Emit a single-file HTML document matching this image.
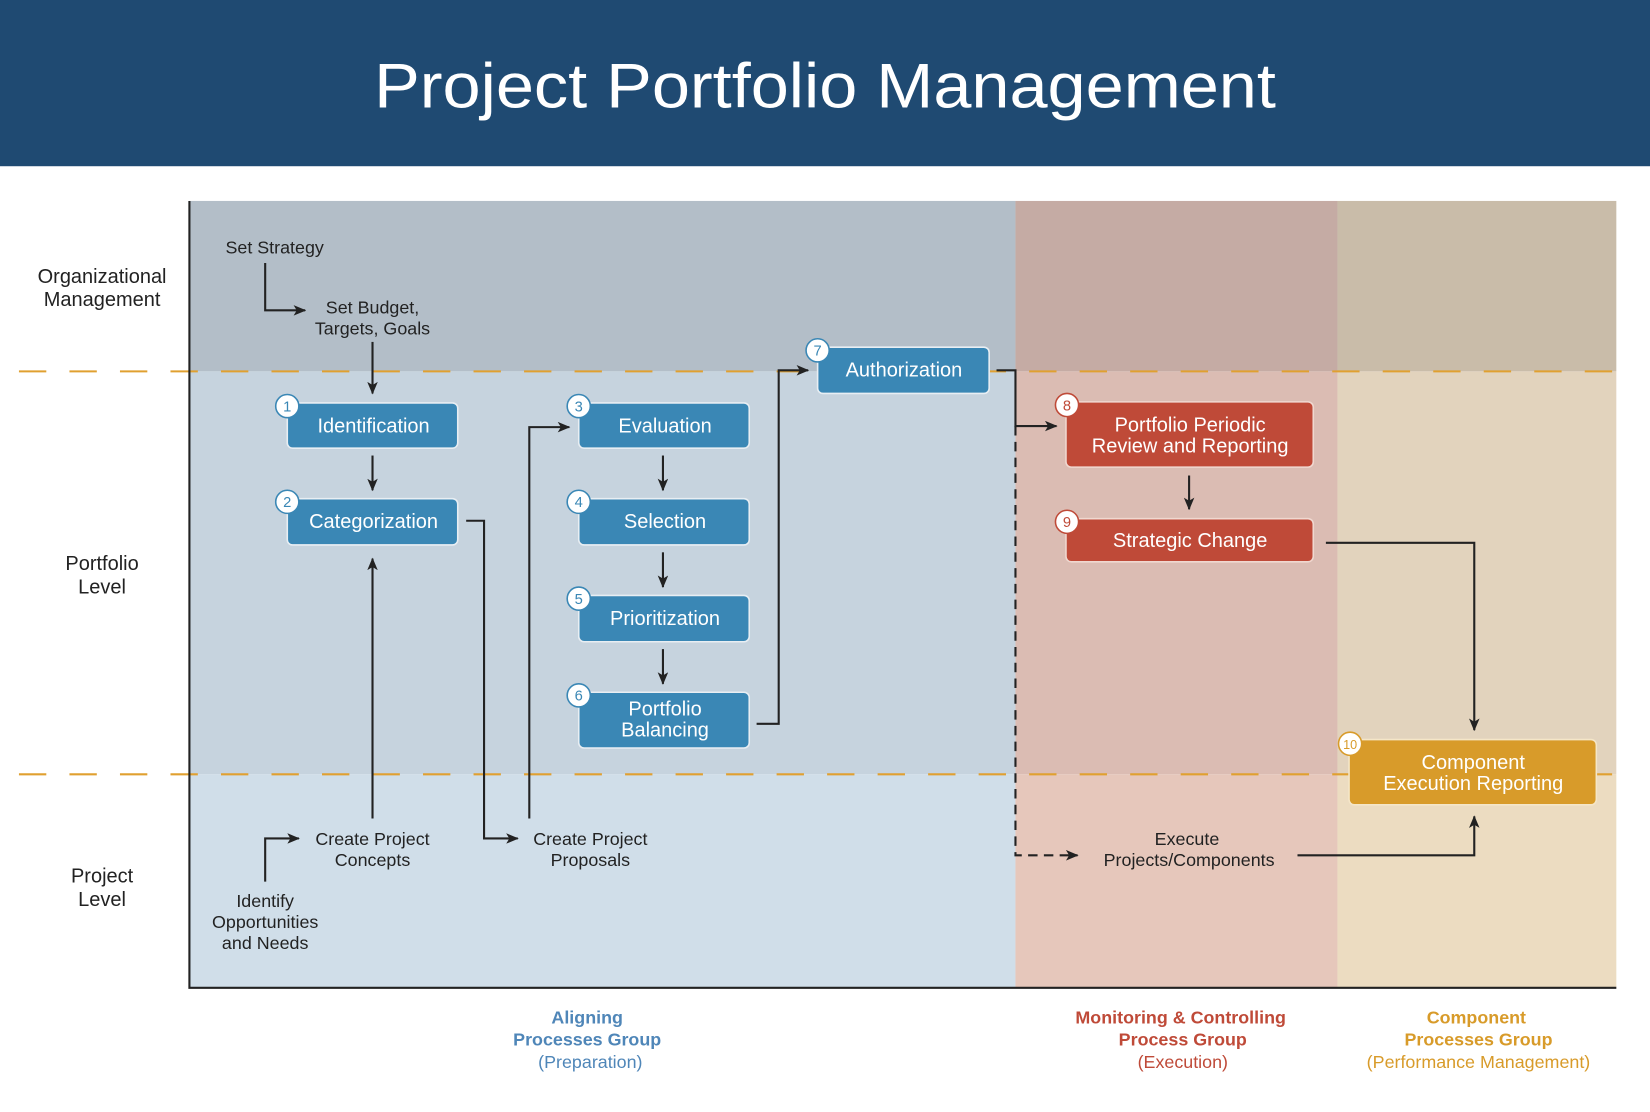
<!DOCTYPE html>
<html><head><meta charset="utf-8"><style>
html,body{margin:0;padding:0;background:#fff;}
svg{display:block;}
text{font-family:"Liberation Sans",sans-serif;}
</style></head><body>
<svg width="1650" height="1112" viewBox="0 0 1568 1057" preserveAspectRatio="none" xmlns="http://www.w3.org/2000/svg">
<defs>
<marker id="a" viewBox="0 0 12 10" refX="11" refY="5" markerWidth="12" markerHeight="10" markerUnits="userSpaceOnUse" orient="auto">
<path d="M0,0 L12,5 L0,10 L3,5 Z" fill="#222"/>
</marker>
</defs>
<rect x="0" y="0" width="1568" height="158" fill="#1f4a72"/>
<text x="784" y="102" font-size="60" fill="#fff" text-anchor="middle" textLength="857" lengthAdjust="spacingAndGlyphs">Project Portfolio Management</text>

<!-- background bands -->
<rect x="180" y="191" width="785" height="162" fill="#b3bec8"/>
<rect x="180" y="353" width="785" height="383" fill="#c6d3de"/>
<rect x="180" y="736" width="785" height="203" fill="#d0dee9"/>
<rect x="965" y="191" width="306" height="162" fill="#c5aba4"/>
<rect x="965" y="353" width="306" height="383" fill="#dbbcb3"/>
<rect x="965" y="736" width="306" height="203" fill="#e6c7bb"/>
<rect x="1271" y="191" width="265" height="162" fill="#c9bca9"/>
<rect x="1271" y="353" width="265" height="383" fill="#e2d3bd"/>
<rect x="1271" y="736" width="265" height="203" fill="#ecdcc1"/>

<line x1="18" y1="353" x2="1536" y2="353" stroke="#e0a030" stroke-width="2" stroke-dasharray="26,22"/>
<line x1="18" y1="736" x2="1536" y2="736" stroke="#e0a030" stroke-width="2" stroke-dasharray="26,22"/>
<path d="M180,191 V939 H1536" fill="none" stroke="#222" stroke-width="2"/>

<!-- row labels -->
<g font-size="19" fill="#222" text-anchor="middle">
<text x="97" y="269">Organizational</text><text x="97" y="291">Management</text>
<text x="97" y="542">Portfolio</text><text x="97" y="564">Level</text>
<text x="97" y="839">Project</text><text x="97" y="861">Level</text>
</g>

<!-- connectors -->
<g stroke="#222" stroke-width="2" fill="none">
<path d="M252,250 V295 H290" marker-end="url(#a)"/>
<path d="M354,325 V374" marker-end="url(#a)"/>
<path d="M354,433 V466" marker-end="url(#a)"/>
<path d="M443,495 H460 V797 H492" marker-end="url(#a)"/>
<path d="M354,778 V531" marker-end="url(#a)"/>
<path d="M252,838 V797 H284" marker-end="url(#a)"/>
<path d="M503,778 V406 H541" marker-end="url(#a)"/>
<path d="M630,433 V466" marker-end="url(#a)"/>
<path d="M630,525 V558" marker-end="url(#a)"/>
<path d="M630,617 V650" marker-end="url(#a)"/>
<path d="M719,688 H740 V352 H768" marker-end="url(#a)"/>
<path d="M947,352 H965 V405 H1004" marker-end="url(#a)"/>
<path d="M965,405 V813 H1024" stroke-dasharray="9,6" marker-end="url(#a)"/>
<path d="M1130,452 V484" marker-end="url(#a)"/>
<path d="M1260,516 H1401 V694" marker-end="url(#a)"/>
<path d="M1233,813 H1401 V776" marker-end="url(#a)"/>
</g>

<!-- plain labels -->
<g font-size="17" fill="#222" text-anchor="middle">
<text x="261" y="241">Set Strategy</text>
<text x="354" y="298">Set Budget,</text><text x="354" y="318">Targets, Goals</text>
<text x="354" y="803">Create Project</text><text x="354" y="823">Concepts</text>
<text x="252" y="862">Identify</text><text x="252" y="882">Opportunities</text><text x="252" y="902">and Needs</text>
<text x="561" y="803">Create Project</text><text x="561" y="823">Proposals</text>
<text x="1128" y="803">Execute</text><text x="1130" y="823">Projects/Components</text>
</g>

<!-- boxes -->
<g stroke="#e8eef3" stroke-width="1.5">
<rect x="273" y="383" width="162" height="43" rx="5" fill="#3a87b5"/>
<rect x="273" y="474" width="162" height="44" rx="5" fill="#3a87b5"/>
<rect x="550" y="383" width="162" height="43" rx="5" fill="#3a87b5"/>
<rect x="550" y="474" width="162" height="44" rx="5" fill="#3a87b5"/>
<rect x="550" y="566" width="162" height="44" rx="5" fill="#3a87b5"/>
<rect x="550" y="658" width="162" height="53" rx="5" fill="#3a87b5"/>
<rect x="777" y="330" width="163" height="44" rx="5" fill="#3a87b5"/>
<rect x="1013" y="382" width="235" height="62" rx="5" fill="#bf4a38" stroke="#f0d8d0"/>
<rect x="1013" y="493" width="235" height="41" rx="5" fill="#bf4a38" stroke="#f0d8d0"/>
<rect x="1282" y="703" width="235" height="62" rx="5" fill="#d89b2a" stroke="#f5e6c8"/>
</g>
<g font-size="19" fill="#fff" text-anchor="middle">
<text x="355" y="411">Identification</text>
<text x="355" y="502">Categorization</text>
<text x="632" y="411">Evaluation</text>
<text x="632" y="502">Selection</text>
<text x="632" y="594">Prioritization</text>
<text x="632" y="680">Portfolio</text><text x="632" y="700">Balancing</text>
<text x="859" y="358">Authorization</text>
<text x="1131" y="410">Portfolio Periodic</text><text x="1131" y="430">Review and Reporting</text>
<text x="1131" y="520">Strategic Change</text>
<text x="1400" y="731">Component</text><text x="1400" y="751">Execution Reporting</text>
</g>

<!-- badges -->
<g stroke-width="1.5" fill="#fff">
<circle cx="273" cy="386" r="11" stroke="#3a87b5"/>
<circle cx="273" cy="477" r="11" stroke="#3a87b5"/>
<circle cx="550" cy="386" r="11" stroke="#3a87b5"/>
<circle cx="550" cy="477" r="11" stroke="#3a87b5"/>
<circle cx="550" cy="569" r="11" stroke="#3a87b5"/>
<circle cx="550" cy="661" r="11" stroke="#3a87b5"/>
<circle cx="777" cy="333" r="11" stroke="#3a87b5"/>
<circle cx="1014" cy="385" r="11" stroke="#bf4a38"/>
<circle cx="1014" cy="496" r="11" stroke="#bf4a38"/>
<circle cx="1283" cy="707" r="11" stroke="#d89b2a"/>
</g>
<g font-size="14" text-anchor="middle">
<text x="273" y="391" fill="#3a87b5">1</text>
<text x="273" y="482" fill="#3a87b5">2</text>
<text x="550" y="391" fill="#3a87b5">3</text>
<text x="550" y="482" fill="#3a87b5">4</text>
<text x="550" y="574" fill="#3a87b5">5</text>
<text x="550" y="666" fill="#3a87b5">6</text>
<text x="777" y="338" fill="#3a87b5">7</text>
<text x="1014" y="390" fill="#bf4a38">8</text>
<text x="1014" y="501" fill="#bf4a38">9</text>
<text x="1283" y="712" fill="#d89b2a" font-size="12">10</text>
</g>

<!-- bottom group labels -->
<g font-size="17" text-anchor="middle">
<text x="558" y="973" fill="#4f86b8" font-weight="bold">Aligning</text>
<text x="558" y="994" fill="#4f86b8" font-weight="bold">Processes Group</text>
<text x="561" y="1015" fill="#4f86b8">(Preparation)</text>
<text x="1122" y="973" fill="#bf4a38" font-weight="bold">Monitoring &amp; Controlling</text>
<text x="1124" y="994" fill="#bf4a38" font-weight="bold">Process Group</text>
<text x="1124" y="1015" fill="#bf4a38">(Execution)</text>
<text x="1403" y="973" fill="#d89b2a" font-weight="bold">Component</text>
<text x="1405" y="994" fill="#d89b2a" font-weight="bold">Processes Group</text>
<text x="1405" y="1015" fill="#d89b2a">(Performance Management)</text>
</g>
</svg>
</body></html>
